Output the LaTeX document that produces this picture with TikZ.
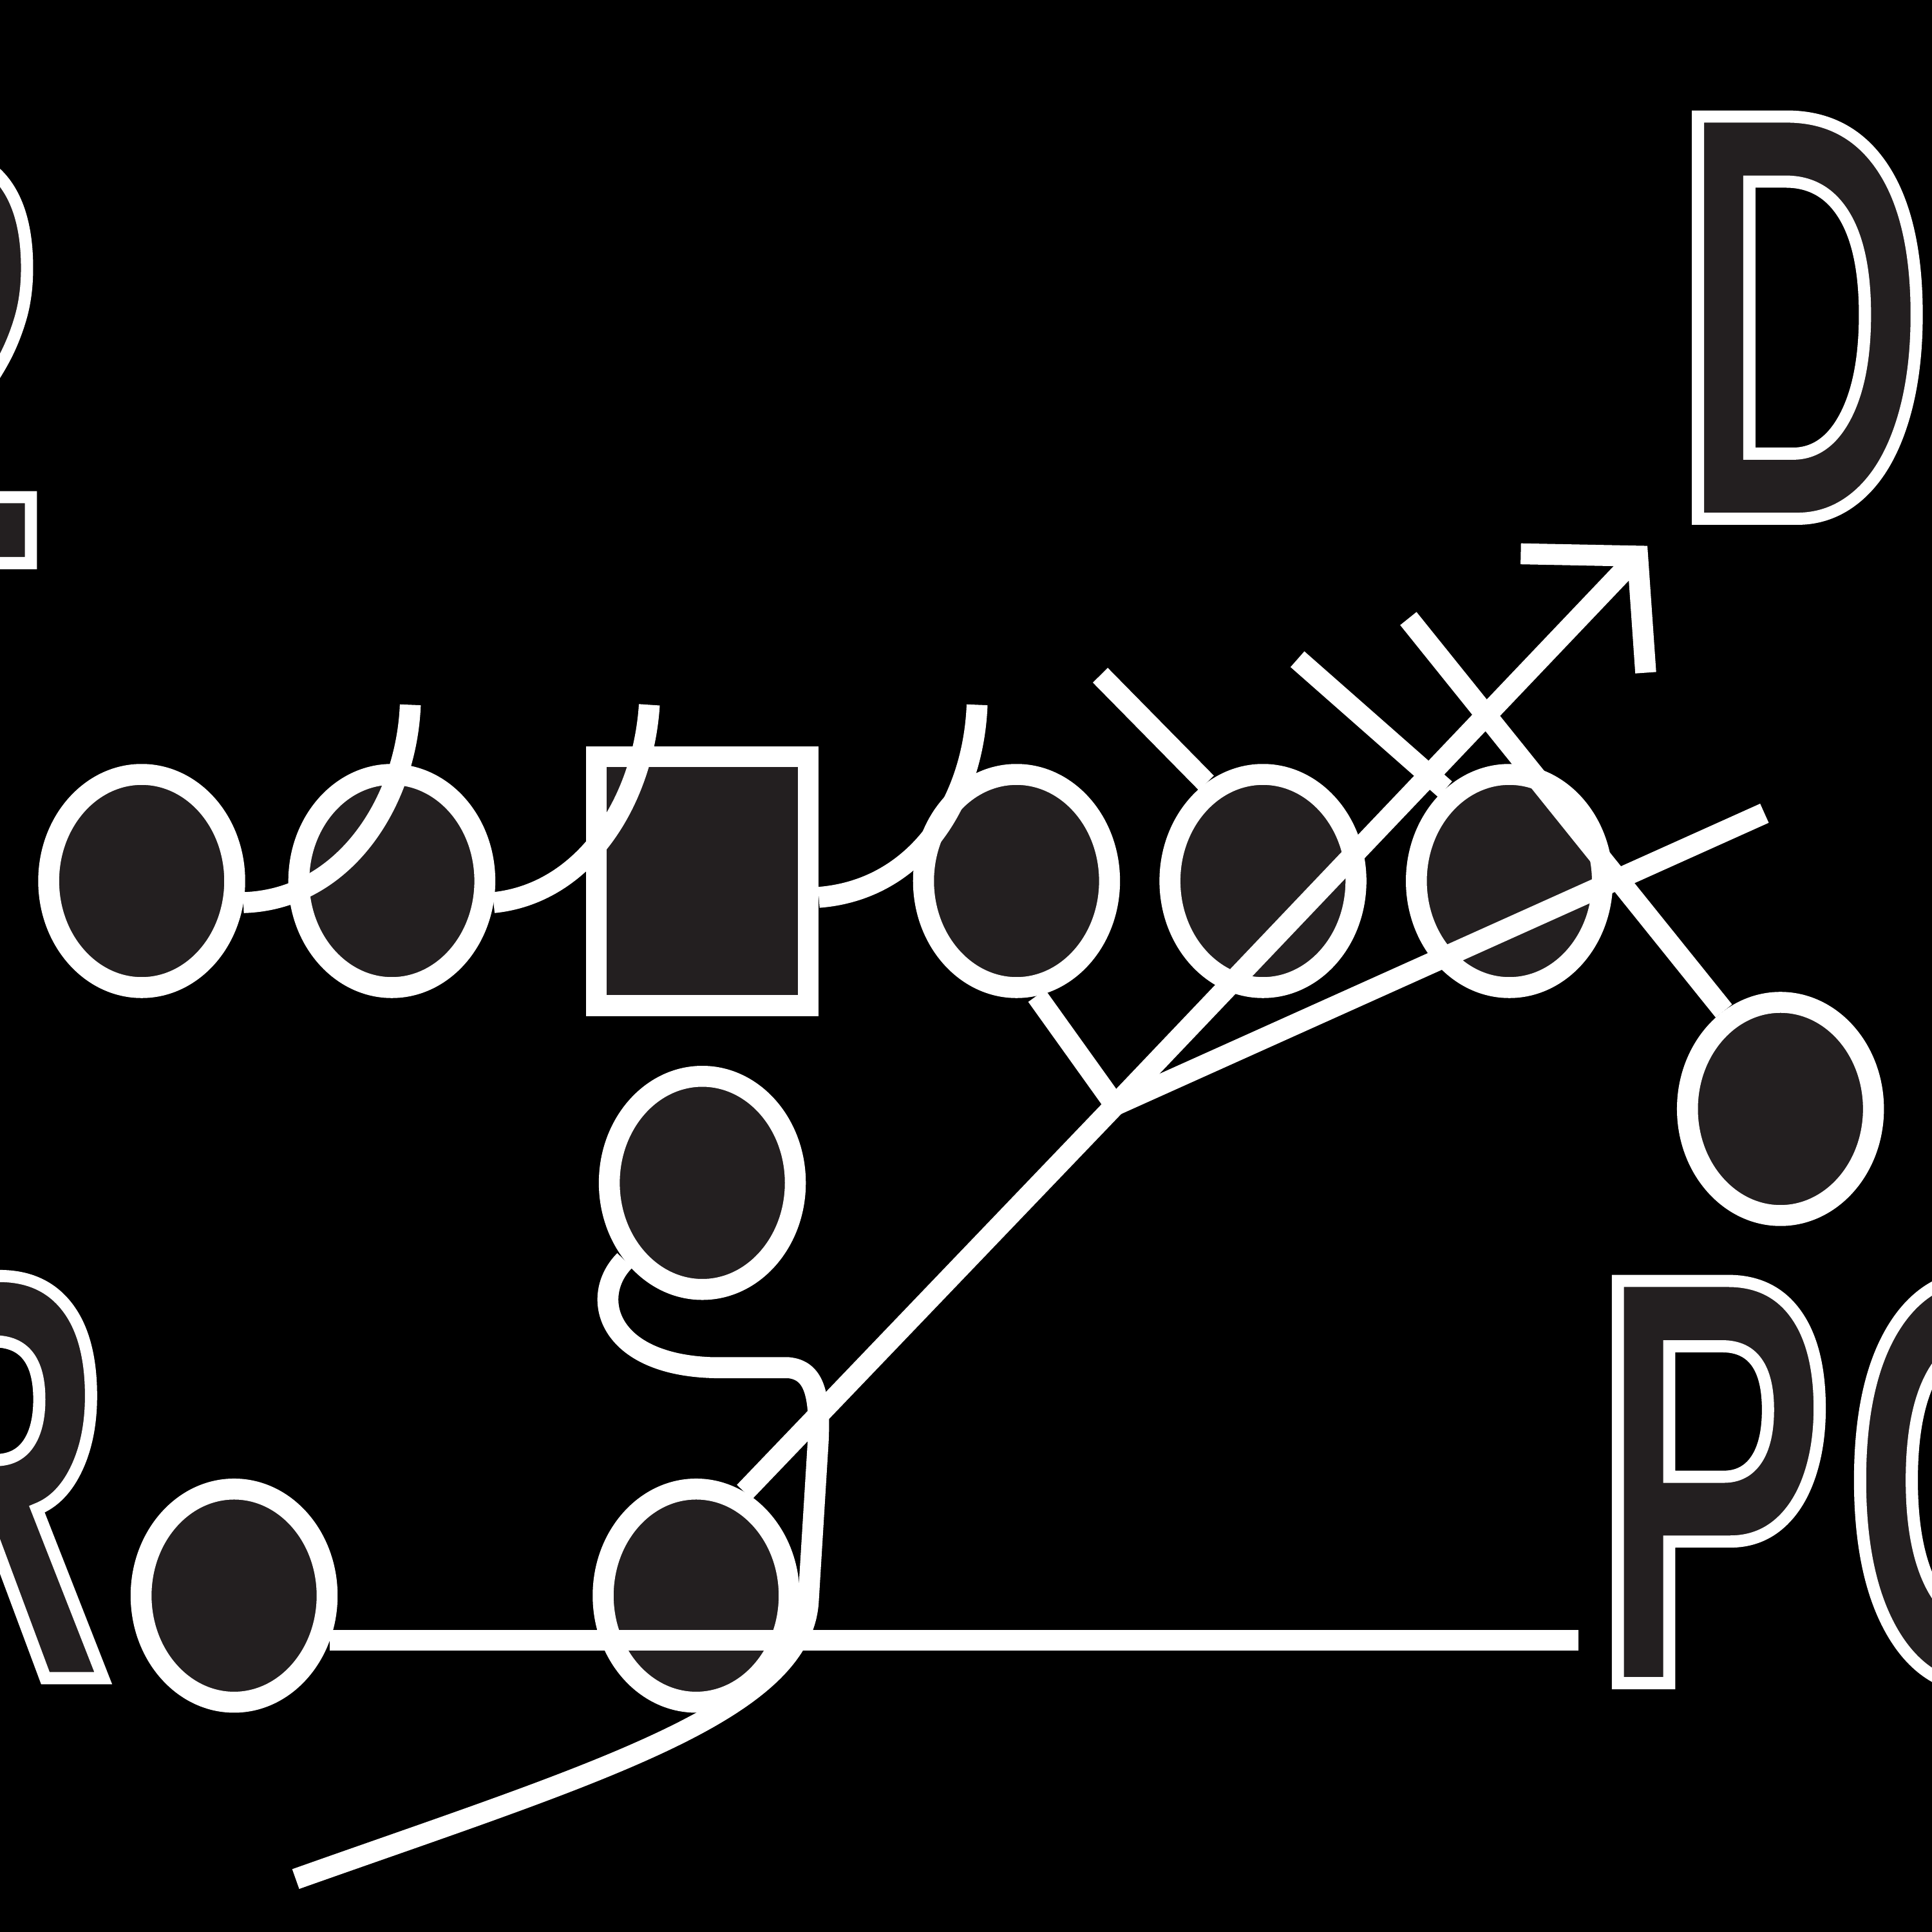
\documentclass[tikz,border=0pt]{standalone}
\usepackage{fontspec}
\newfontfamily\playfont[FakeStretch=0.61]{Liberation Sans}
\usetikzlibrary{arrows.meta,shapes.geometric}
\definecolor{ink}{HTML}{231F20}
\newcommand\hollow[1]{\special{pdf:literal direct 1 1 1 RG 2.8 w 2 Tr}#1\special{pdf:literal direct 0 Tr}}

\begin{document}
\begin{tikzpicture}[x=0.1mm,y=-0.1mm,
  man/.style={ellipse,draw=white,fill=ink,line width=1.7mm,minimum width=15.1mm,minimum height=17.3mm,inner sep=0pt},
  snapper/.style={rectangle,draw=white,fill=ink,line width=1.7mm,minimum width=17.2mm,minimum height=20.2mm,inner sep=0pt},
  route/.style={draw=white,line width=1.7mm},
  word/.style={anchor=base west,inner sep=0pt,text=ink,font=\playfont\bfseries\fontsize{135}{135}\selectfont}]

         \useasboundingbox (0,0) rectangle (1568,1568);
         \fill [black] (0,0) rectangle (1568,1568);

         \node [word] (Q)  at (-125,457)   {\hollow{2}};
         \node [word] (W)  at (1358,421)   {\hollow{D}};
         \node [word] (X)  at (-120,1362)  {\hollow{R}};
         \node [word] (Y)  at (1293,1366)  {\hollow{P\kern1.1mm O}};

         \node [man] (A)  at (115,715)    {};
         \node [man] (B)  at (318,715)    {};
         \node [snapper] (C)  at (570,715)    {};
         \node [man] (D)  at (825,715)    {};
         \node [man] (E)  at (1025,715)   {};
         \node [man] (F)  at (1225,715)   {};
         \node [man] (G)  at (1445,900)   {};
         \node [man] (H)  at (570,960)    {};
         \node [man] (I)  at (190,1295)   {};
         \node [man] (K)  at (565,1295)   {};

         \coordinate (J)  at (905,897);
         \coordinate (t1) at (333,572);
         \coordinate (t2) at (527,572);
         \coordinate (t3) at (793,572);
         \coordinate (e4) at (893,548);
         \coordinate (f5) at (1053,535);
         \coordinate (g6) at (1143,502);
         \coordinate (tip) at (1337,443);
         \coordinate (flat) at (1432,660);
         \coordinate (hend) at (1281,1328);
         \coordinate (drop) at (240,1525);

  		 \draw [route] (A.-12) .. controls (280,730) and (330,650) .. (t1) ;
  		 \draw [route] (B.-12) .. controls (475,725) and (522,650) .. (t2) ;
  		 \draw [route] (C.-8) .. controls (745,722) and (790,650) .. (t3) ;
  		 \draw [route] (E.120) -- (e4) ;
  		 \draw [route] (F.125) -- (f5) ;
  		 \draw [route] (G.120) -- (g6) ;
  		 \draw [route] (D.-80) -- (J) ;
  		 \draw [route,-{Straight Barb[length=6.4mm,width=14mm]}] (K.65) -- (J) -- (tip) ;
  		 \draw [route] (J) -- (flat) ;
  		 \draw [route] (I.-25) -- (I.-25 -| hend) ;
  		 \draw [route] (H.225) .. controls (478,1052) and (492,1108) .. (580,1110) -- (640,1110) .. controls (660,1112) and (666,1130) .. (664,1170) -- (656,1300) .. controls (650,1390) and (480,1440) .. (drop) ;

\end{tikzpicture}
\end{document}
